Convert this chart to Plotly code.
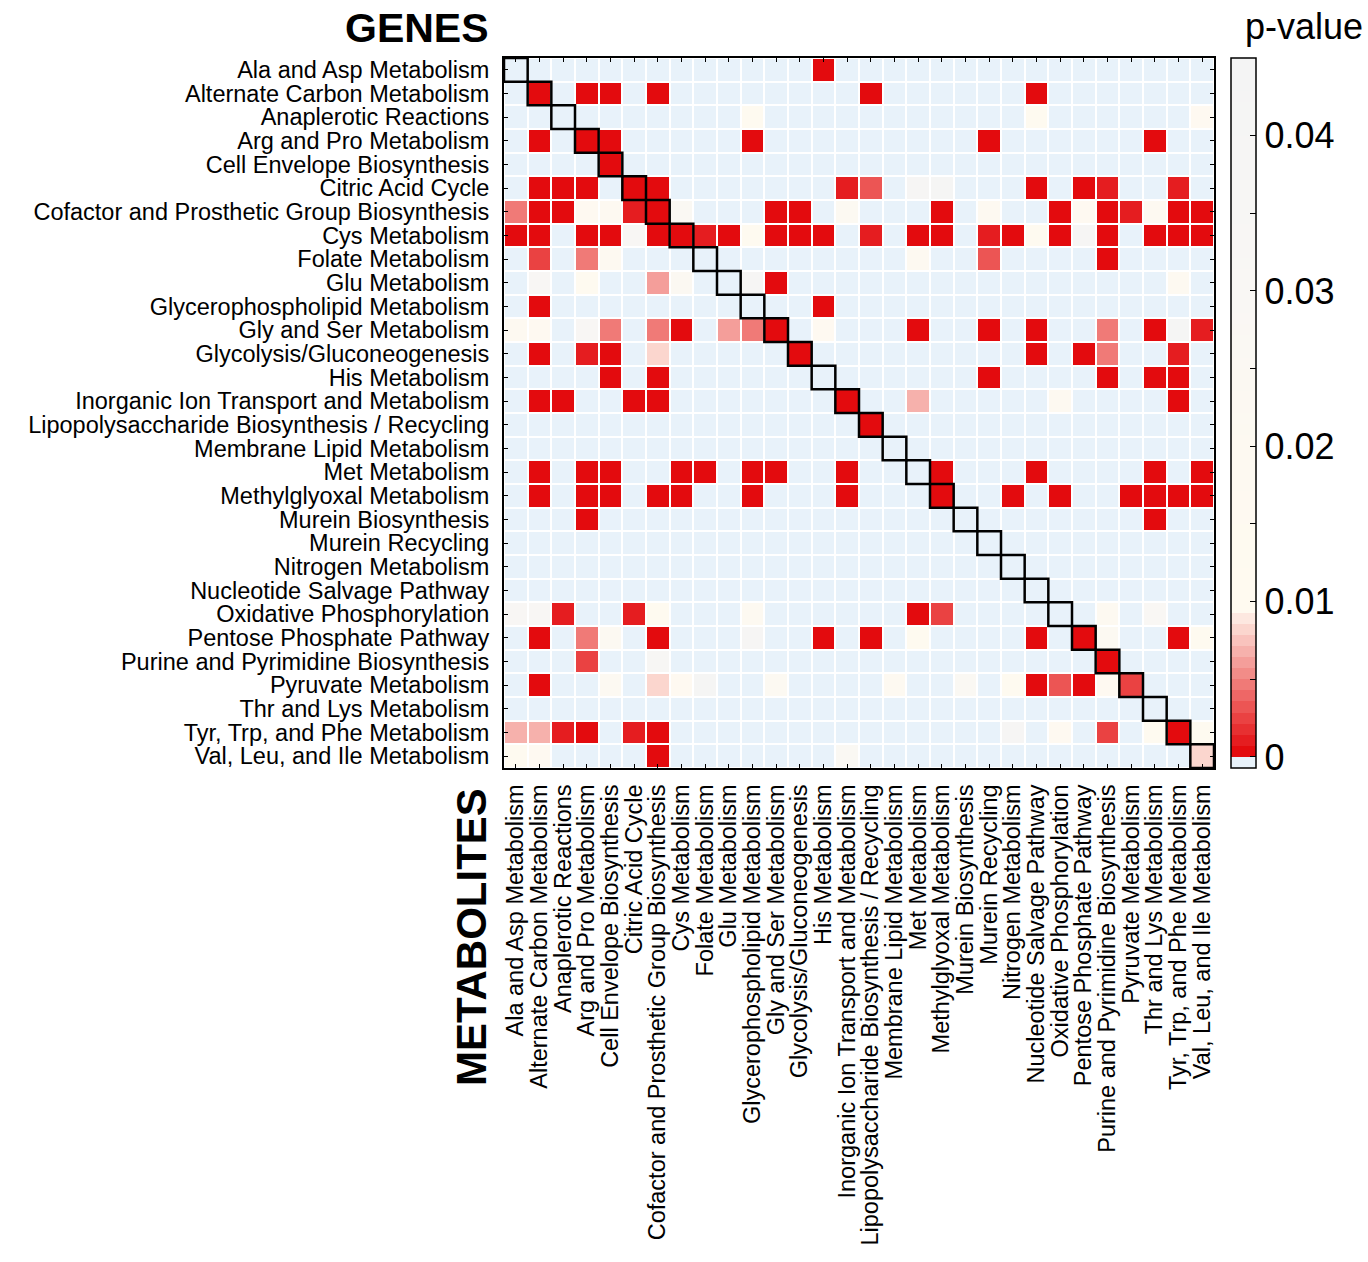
import plotly.graph_objects as go

# Pathway categories (rows: gene sets, columns: metabolite sets)
pathways = [
    "Ala and Asp Metabolism",
    "Alternate Carbon Metabolism",
    "Anaplerotic Reactions",
    "Arg and Pro Metabolism",
    "Cell Envelope Biosynthesis",
    "Citric Acid Cycle",
    "Cofactor and Prosthetic Group Biosynthesis",
    "Cys Metabolism",
    "Folate Metabolism",
    "Glu Metabolism",
    "Glycerophospholipid Metabolism",
    "Gly and Ser Metabolism",
    "Glycolysis/Gluconeogenesis",
    "His Metabolism",
    "Inorganic Ion Transport and Metabolism",
    "Lipopolysaccharide Biosynthesis / Recycling",
    "Membrane Lipid Metabolism",
    "Met Metabolism",
    "Methylglyoxal Metabolism",
    "Murein Biosynthesis",
    "Murein Recycling",
    "Nitrogen Metabolism",
    "Nucleotide Salvage Pathway",
    "Oxidative Phosphorylation",
    "Pentose Phosphate Pathway",
    "Purine and Pyrimidine Biosynthesis",
    "Pyruvate Metabolism",
    "Thr and Lys Metabolism",
    "Tyr, Trp, and Phe Metabolism",
    "Val, Leu, and Ile Metabolism",
]
gene_labels = pathways
metabolite_labels = pathways

# p-values of gene-set vs metabolite-set enrichment; None = not significant
_ = None
p_values = [
    # 0
    [_, _, _, _, _, _, _, _, _, _, _, _, _, 0.0001, _, _, _, _, _, _, _, _, _, _, _, _, _, _, _, _],
    # 1
    [_, 0.0001, _, 0.0001, 0.0001, _, 0.0001, _, _, _, _, _, _, _, _, 0.0001, _, _, _, _, _, _, 0.0001, _, _, _, _, _, _, _],
    # 2
    [_, _, _, _, _, _, _, _, _, _, 0.015, _, _, _, _, _, _, _, _, _, _, _, 0.015, _, _, _, _, _, _, 0.016],
    # 3
    [_, 0.0001, _, 0.0001, 0.0001, _, _, _, _, _, 0.0001, _, _, _, _, _, _, _, _, _, 0.0001, _, _, _, _, _, _, 0.0001, _, _],
    # 4
    [_, _, _, _, 0.0001, _, _, _, _, _, _, _, _, _, _, _, _, _, _, _, _, _, _, _, _, _, _, _, _, _],
    # 5
    [_, 0.0001, 0.0001, 0.0001, _, 0.0001, 0.0001, _, _, _, _, _, _, _, 0.001, 0.0032, _, 0.040, 0.041, _, _, _, 0.0001, _, 0.0001, 0.001, _, _, 0.001, _],
    # 6
    [0.0048, 0.0001, 0.0002, 0.016, 0.018, 0.001, 0.0001, 0.026, _, _, _, 0.0001, 0.0004, _, 0.022, _, _, _, 0.0001, _, 0.018, _, _, 0.0001, 0.016, 0.0001, 0.001, 0.020, 0.0001, 0.0001],
    # 7
    [0.0001, 0.0001, _, 0.0001, 0.0001, 0.033, 0.0001, 0.0001, 0.001, 0.0001, 0.014, 0.0001, 0.0001, 0.0001, _, 0.001, _, 0.0001, 0.0001, _, 0.001, 0.0001, 0.015, 0.0001, 0.040, 0.0001, _, 0.0001, 0.0001, 0.0001],
    # 8
    [_, 0.0025, _, 0.0048, 0.020, _, _, _, _, _, _, _, _, _, _, _, _, 0.020, _, _, 0.0032, _, _, _, _, 0.0001, _, _, _, _],
    # 9
    [_, 0.034, _, 0.015, _, _, 0.0060, 0.025, _, _, 0.040, 0.0001, _, _, _, _, _, _, _, _, _, _, _, _, _, _, _, _, 0.020, _],
    # 10
    [_, 0.0001, _, _, _, _, _, _, _, _, _, _, _, 0.0001, _, _, _, _, _, _, _, _, _, _, _, _, _, _, _, _],
    # 11
    [0.018, 0.016, _, 0.033, 0.0048, _, 0.0048, 0.0001, _, 0.0060, 0.0048, 0.0001, _, 0.016, _, _, _, 0.0001, _, _, 0.0001, _, 0.0001, _, _, 0.0048, _, 0.0001, 0.042, 0.001],
    # 12
    [_, 0.0001, _, 0.001, 0.0001, _, 0.0082, _, _, _, _, _, 0.0001, _, _, _, _, _, _, _, _, _, 0.0001, _, 0.0001, 0.0048, _, _, 0.001, _],
    # 13
    [_, _, _, _, 0.0001, _, 0.0001, _, _, _, _, _, _, _, _, _, _, _, _, _, 0.0001, _, _, _, _, 0.0001, _, 0.0001, 0.0001, _],
    # 14
    [_, 0.0001, 0.0001, _, _, 0.0001, 0.0001, _, _, _, _, _, _, _, 0.0001, _, _, 0.0068, _, _, _, _, _, 0.018, _, _, _, _, 0.0001, _],
    # 15
    [_, _, _, _, _, _, _, _, _, _, _, _, _, _, _, 0.0001, _, _, _, _, _, _, _, _, _, _, _, _, _, _],
    # 16
    [_, _, _, _, _, _, _, _, _, _, _, _, _, _, _, _, _, _, _, _, _, _, _, _, _, _, _, _, _, _],
    # 17
    [_, 0.0001, _, 0.0001, 0.0001, _, _, 0.0001, 0.0001, _, 0.0001, 0.0001, _, _, 0.0001, _, _, _, 0.0001, _, _, _, 0.0001, _, _, _, _, 0.0001, _, 0.0001],
    # 18
    [_, 0.0001, _, 0.0001, 0.0001, _, 0.0001, 0.0001, _, _, 0.0001, _, _, _, 0.0001, _, _, _, 0.0001, _, _, 0.0001, _, 0.0001, _, _, 0.0001, 0.0001, 0.0001, 0.0001],
    # 19
    [_, _, _, 0.0001, _, _, _, _, _, _, _, _, _, _, _, _, _, _, _, _, _, _, _, _, _, _, _, 0.0001, _, _],
    # 20
    [_, _, _, _, _, _, _, _, _, _, _, _, _, _, _, _, _, _, _, _, _, _, _, _, _, _, _, _, _, _],
    # 21
    [_, _, _, _, _, _, _, _, _, _, _, _, _, _, _, _, _, _, _, _, _, _, _, _, _, _, _, _, _, _],
    # 22
    [_, _, _, _, _, _, _, _, _, _, _, _, _, _, _, _, _, _, _, _, _, _, _, _, _, _, _, _, _, _],
    # 23
    [0.033, 0.033, 0.001, _, _, 0.001, 0.013, _, _, _, 0.018, _, _, _, _, _, _, 0.0001, 0.0025, _, _, _, _, _, _, 0.018, _, 0.030, _, _],
    # 24
    [_, 0.0001, _, 0.0048, 0.022, _, 0.0001, _, _, _, 0.040, _, _, 0.0001, _, 0.0001, _, 0.013, _, _, _, _, 0.0001, _, 0.0001, 0.022, _, _, 0.0001, 0.013],
    # 25
    [_, _, _, 0.0025, _, _, 0.036, _, _, _, _, _, _, _, _, _, _, _, _, _, _, _, _, _, _, 0.0001, _, _, _, _],
    # 26
    [_, 0.0001, _, _, 0.022, _, 0.0082, 0.016, 0.042, _, _, 0.022, _, _, _, _, 0.020, _, _, 0.026, _, 0.014, 0.0001, 0.0032, 0.0001, 0.016, 0.0025, _, _, _],
    # 27
    [_, _, _, _, _, _, _, _, _, _, _, _, _, _, _, _, _, _, _, _, _, _, _, _, _, _, _, _, _, _],
    # 28
    [0.0068, 0.0068, 0.001, 0.0001, _, 0.001, 0.0001, _, _, _, _, _, _, _, _, _, _, _, _, _, _, 0.038, _, 0.016, _, 0.0025, _, 0.013, 0.0001, 0.013],
    # 29
    [0.013, 0.016, _, _, _, _, 0.0001, _, _, _, _, _, _, _, 0.026, _, _, _, _, _, _, _, _, _, _, _, _, _, _, 0.0082],
]

# Colour range: one light-blue level below zero marks non-significant cells
Z_MIN = -0.000714
Z_MAX = 0.045
N_LEVELS = 64
NA_COLOR = (232, 242, 250)


def lerp(c0, c1, t):
    return tuple(round(a + (b - a) * t) for a, b in zip(c0, c1))


def level_color(k):
    if k == 0:
        return NA_COLOR
    if k <= 13:
        return lerp((227, 11, 14), (253, 232, 224), (k - 1) / 12)
    anchors = [(14, (255, 250, 240)), (28, (253, 249, 241)),
               (42, (249, 247, 244)), (63, (244, 244, 244))]
    for (k0, c0), (k1, c1) in zip(anchors[:-1], anchors[1:]):
        if k0 <= k <= k1:
            return lerp(c0, c1, (k - k0) / (k1 - k0))
    return anchors[-1][1]


colorscale = []
for k in range(N_LEVELS):
    c = "rgb(%d,%d,%d)" % level_color(k)
    colorscale.append([k / N_LEVELS, c])
    colorscale.append([(k + 1) / N_LEVELS, c])

n = len(pathways)
z = [[Z_MIN if v is None else v for v in row] for row in p_values]
text = [["n.s." if v is None else "%.4f" % v for v in row] for row in p_values]

FONT = "Liberation Sans, Arial, Helvetica, sans-serif"

fig = go.Figure(
    go.Heatmap(
        z=z,
        x=list(range(n)),
        y=list(range(n)),
        text=text,
        zmin=Z_MIN,
        zmax=Z_MAX,
        colorscale=colorscale,
        xgap=2,
        ygap=2,
        hovertemplate="%{text}<extra></extra>",
        colorbar=dict(
            x=1.0239,
            xanchor="left",
            xref="paper",
            xpad=0,
            y=0.5,
            yanchor="middle",
            ypad=0,
            len=1.0,
            lenmode="fraction",
            thickness=25,
            outlinewidth=1.5,
            outlinecolor="black",
            tickvals=[0, 0.005, 0.01, 0.015, 0.02, 0.025, 0.03, 0.035, 0.04],
            ticktext=["0", "", "0.01", "", "0.02", "", "0.03", "", "0.04"],
            ticks="inside",
            ticklen=6,
            tickwidth=1,
            tickcolor="black",
            tickfont=dict(family=FONT, size=36, color="black"),
        ),
    )
)

# Outline the diagonal (same pathway on both sides)
for i in range(n):
    fig.add_shape(
        type="rect",
        xref="x",
        yref="y",
        x0=i - 0.5,
        x1=i + 0.5,
        y0=i - 0.5,
        y1=i + 0.5,
        line=dict(color="black", width=2.5),
        fillcolor="rgba(0,0,0,0)",
    )

axis_common = dict(
    showgrid=False,
    zeroline=False,
    showline=True,
    linecolor="black",
    linewidth=2,
    mirror="ticks",
    ticks="inside",
    ticklen=4,
    tickcolor="black",
    automargin=False,
    tickfont=dict(family=FONT, size=23.5, color="black"),
)

fig.update_layout(
    width=1368,
    height=1262,
    margin=dict(l=504, r=154, t=58, b=494, autoexpand=False),
    paper_bgcolor="white",
    plot_bgcolor="white",
    xaxis=dict(
        axis_common,
        range=[-0.5, n - 0.5],
        tickmode="array",
        tickvals=list(range(n)),
        ticktext=metabolite_labels,
        tickangle=-90,
        ticklabelstandoff=5,
    ),
    yaxis=dict(
        axis_common,
        range=[n - 0.5, -0.5],
        tickmode="array",
        tickvals=list(range(n)),
        ticktext=gene_labels,
        ticklabelstandoff=8,
    ),
    annotations=[
        dict(
            text="<b>GENES</b>",
            xref="paper", yref="paper",
            x=-0.019, y=1.042,
            xanchor="right", yanchor="middle",
            showarrow=False,
            font=dict(family=FONT, size=41, color="black"),
        ),
        dict(
            text="<b>METABOLITES</b>",
            xref="paper", yref="paper",
            x=-0.045, y=-0.238,
            xanchor="center", yanchor="middle",
            textangle=-90,
            showarrow=False,
            font=dict(family=FONT, size=42, color="black"),
        ),
        dict(
            text="p-value",
            xref="paper", yref="paper",
            x=1.127, y=1.045,
            xanchor="center", yanchor="middle",
            showarrow=False,
            font=dict(family=FONT, size=36, color="black"),
        ),
    ],
)

fig.write_html("out.html")
